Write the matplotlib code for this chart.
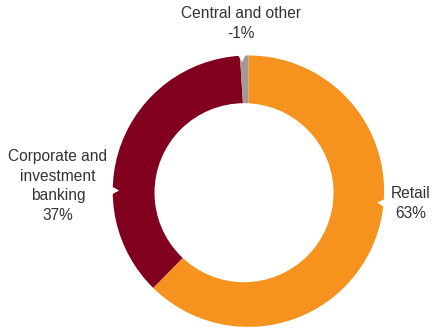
import numpy as np
import matplotlib
matplotlib.use("Agg")
import matplotlib.pyplot as plt
from matplotlib.patches import Circle, Polygon

plt.rcParams['font.family'] = ['Liberation Sans', 'DejaVu Sans']

# Profit contribution by segment
segments = ["Retail", "Corporate and\ninvestment\nbanking", "Central and other"]
shares = [63, 37, -1]
colors = ["#F6921E", "#80001D", "#A39A92"]

W, H = 434, 328
fig = plt.figure(figsize=(W / 100, H / 100), dpi=100)
ax = fig.add_axes([0, 0, 1, 1])

cx, cy, R = 248.4, 136.8, 135.7
sizes = [abs(v) for v in shares]
ax.pie(sizes, colors=colors, startangle=90, counterclock=False,
       center=(cx, cy), radius=R, frame=True,
       wedgeprops=dict(linewidth=0))
ax.set_xlim(0, W)
ax.set_ylim(0, H)
ax.set_aspect('equal')
ax.axis('off')

# hole of the donut
ax.add_patch(Circle((cx - 4.4, cy - 1.5), 89.5, facecolor='white',
                    edgecolor='none', zorder=3))

# small white notches where each label points into the ring
notch_angles = [-5.0, 179.7, 92.8]
for ang in notch_angles:
    a = np.deg2rad(ang)
    u = np.array([np.cos(a), np.sin(a)])
    n = np.array([-u[1], u[0]])
    base = np.array([cx, cy]) + u * (R + 1.5)
    tip = np.array([cx, cy]) + u * (R - 6.5)
    pts = [base + n * 4.2, base - n * 4.2, tip]
    ax.add_patch(Polygon(pts, closed=True, facecolor='white',
                         edgecolor='none', zorder=4))

txt = dict(color='#333333', fontsize=11.2, ha='center', va='center',
           linespacing=1.4)
ax.text(411, H - 203.5, f"{segments[0]}\n{shares[0]}%", **txt)
ax.text(58, H - 186, f"{segments[1]}\n{shares[1]}%", **txt)
ax.text(241, H - 23.5, f"{segments[2]}\n{shares[2]}%", **txt)

fig.savefig("out.png", dpi=100)
